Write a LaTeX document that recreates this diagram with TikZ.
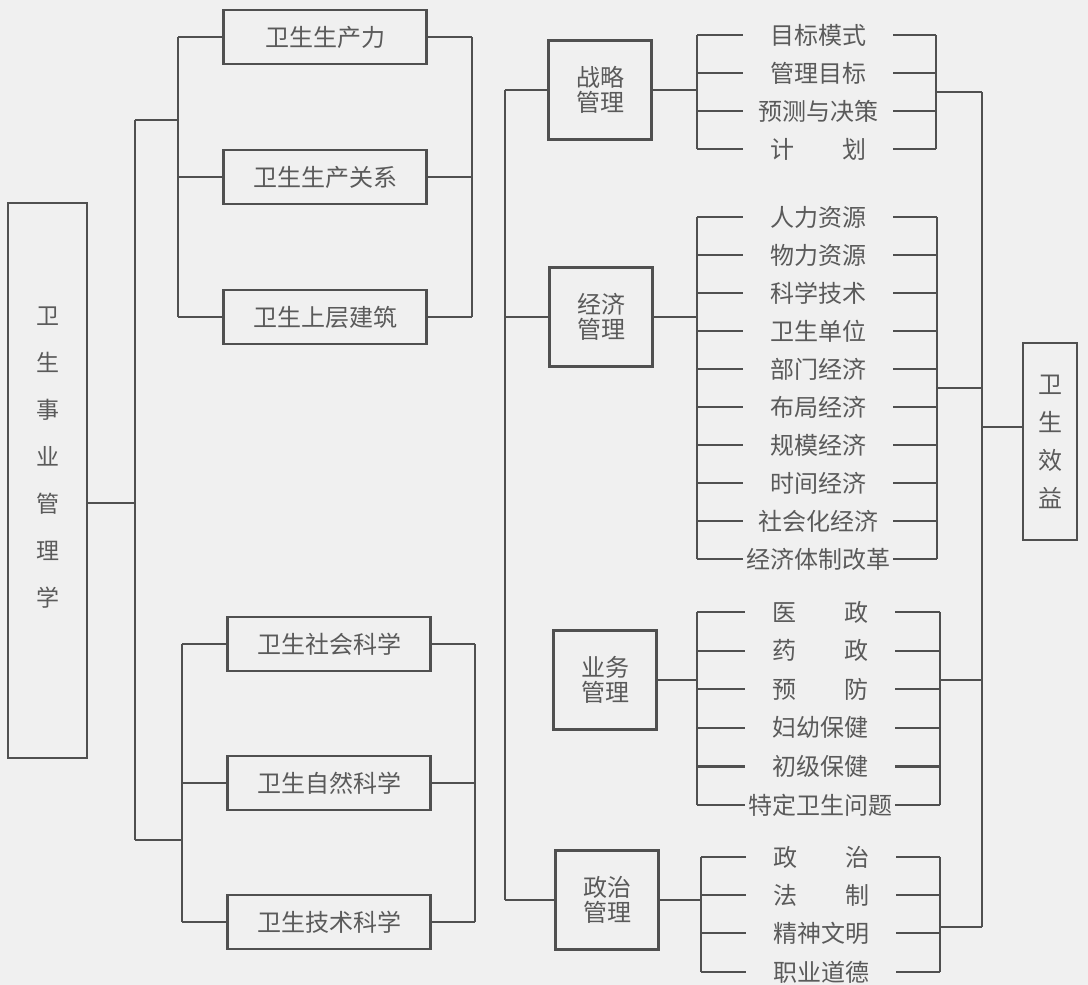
\documentclass[tikz,border=0pt]{standalone}
\usepackage{fontspec}
\newfontfamily\cjk{Noto Sans CJK SC}
\definecolor{ink}{HTML}{505050}
\definecolor{txt}{HTML}{5a5a5a}
\definecolor{paper}{HTML}{F0F0F0}
\begin{document}
\begin{tikzpicture}[x=1pt,y=-1pt,
  link/.style={draw=ink,line width=2.2pt},
  bx/.style={draw=ink,line width=2.2pt,inner sep=0pt,text=txt,font=\cjk\fontsize{24}{28}\selectfont},
  sbox/.style={bx,minimum width=203pt,minimum height=54pt},
  mbox/.style={bx,minimum width=103pt,minimum height=99pt,align=center,font=\cjk\fontsize{24}{25}\selectfont},
  item/.style={inner sep=0pt,minimum width=150pt,minimum height=30pt,text=txt,font=\cjk\fontsize{24}{28}\selectfont}]
\fill[paper] (0,0) rectangle (1088,985);
\useasboundingbox (0,0) rectangle (1088,985);

% left main box
\node[bx,minimum width=79pt,minimum height=555pt] (L) at (47.5,480.5) {};
\node[text=txt,align=center,inner sep=0pt,font=\cjk\fontsize{23}{47}\selectfont] (Lt) at (47.5,458) {卫\\生\\事\\业\\管\\理\\学};

% trunk bar
\coordinate (barT) at (135,120);
\coordinate (barB) at (135,840);
\coordinate (barM) at (135,503);
\draw[link] (barT) -- (barB);
\draw[link] (L.east |- barM) -- (barM);

% top group
\node[sbox] (A1) at (325,37) {卫生生产力};
\node[sbox] (A2) at (325,177) {卫生生产关系};
\node[sbox] (A3) at (325,317) {卫生上层建筑};
\coordinate (tl) at (178,120);
\coordinate (tr) at (472,37);
\draw[link] (barT) -- (tl);
\draw[link] (tl |- A1) -- (tl |- A3);
\draw[link] (tr |- A1) -- (tr |- A3);
\foreach \n in {A1,A2,A3}{
  \draw[link] (tl |- \n) -- (\n.west);
  \draw[link] (\n.east) -- (tr |- \n);
}

% bottom group
\node[sbox] (B1) at (329,644) {卫生社会科学};
\node[sbox] (B2) at (329,783) {卫生自然科学};
\node[sbox] (B3) at (329,922) {卫生技术科学};
\coordinate (bl) at (182,840);
\coordinate (br) at (475,644);
\draw[link] (barB) -- (bl);
\draw[link] (bl |- B1) -- (bl |- B3);
\draw[link] (br |- B1) -- (br |- B3);
\foreach \n in {B1,B2,B3}{
  \draw[link] (bl |- \n) -- (\n.west);
  \draw[link] (\n.east) -- (br |- \n);
}

% management boxes
\node[mbox] (M1) at (600,90) {战略\\管理};
\node[mbox] (M2) at (601,317) {经济\\管理};
\node[mbox] (M3) at (605,680) {业务\\管理};
\node[mbox] (M4) at (607,900) {政治\\管理};
\coordinate (col) at (505,90);
\draw[link] (col |- M1) -- (col |- M4);
\draw[link] (col |- M1) -- (M1.west);
\draw[link] (col |- M2) -- (M2.west);
\draw[link] (col |- M4) -- (M4.west);

% strategy items
\node[item] (S1) at (818,35) {目标模式};
\node[item] (S2) at (818,73) {管理目标};
\node[item] (S3) at (818,111) {预测与决策};
\node[item] (S4) at (818,149) {计\hspace{2em}划};
\coordinate (sL) at (697,90);
\coordinate (sR) at (936,92);
\draw[link] (M1.east) -- (sL |- M1);
\draw[link] (sL |- S1) -- (sL |- S4);
\draw[link] (sR |- S1) -- (sR |- S4);
\foreach \n in {S1,S2,S3,S4}{
  \draw[link] (sL |- \n) -- (\n.west);
  \draw[link] (\n.east) -- (sR |- \n);
}

% economic items
\node[item] (E1) at (818,217) {人力资源};
\node[item] (E2) at (818,255) {物力资源};
\node[item] (E3) at (818,293) {科学技术};
\node[item] (E4) at (818,331) {卫生单位};
\node[item] (E5) at (818,369) {部门经济};
\node[item] (E6) at (818,407) {布局经济};
\node[item] (E7) at (818,445) {规模经济};
\node[item] (E8) at (818,483) {时间经济};
\node[item] (E9) at (818,521) {社会化经济};
\node[item] (E10) at (818,559) {经济体制改革};
\coordinate (eL) at (697,317);
\coordinate (eR) at (937,388);
\draw[link] (M2.east) -- (eL |- M2);
\draw[link] (eL |- E1) -- (eL |- E10);
\draw[link] (eR |- E1) -- (eR |- E10);
\foreach \n in {E1,E2,E3,E4,E5,E6,E7,E8,E9,E10}{
  \draw[link] (eL |- \n) -- (\n.west);
  \draw[link] (\n.east) -- (eR |- \n);
}

% business items
\node[item] (Y1) at (820,612) {医\hspace{2em}政};
\node[item] (Y2) at (820,650.6) {药\hspace{2em}政};
\node[item] (Y3) at (820,689.2) {预\hspace{2em}防};
\node[item] (Y4) at (820,727.8) {妇幼保健};
\node[item] (Y5) at (820,766.4) {初级保健};
\node[item] (Y6) at (820,805) {特定卫生问题};
\coordinate (yL) at (697,680);
\coordinate (yR) at (940,680);
\draw[link] (M3.east) -- (yL |- M3);
\draw[link] (yL |- Y1) -- (yL |- Y6);
\draw[link] (yR |- Y1) -- (yR |- Y6);
\foreach \n in {Y1,Y2,Y3,Y4,Y5,Y6}{
  \draw[link] (yL |- \n) -- (\n.west);
  \draw[link] (\n.east) -- (yR |- \n);
}

% political items
\node[item] (Z1) at (821,857) {政\hspace{2em}治};
\node[item] (Z2) at (821,895) {法\hspace{2em}制};
\node[item] (Z3) at (821,933) {精神文明};
\node[item] (Z4) at (821,972) {职业道德};
\coordinate (zL) at (701,900);
\coordinate (zR) at (940,927);
\draw[link] (M4.east) -- (zL |- M4);
\draw[link] (zL |- Z1) -- (zL |- Z4);
\draw[link] (zR |- Z1) -- (zR |- Z4);
\foreach \n in {Z1,Z2,Z3,Z4}{
  \draw[link] (zL |- \n) -- (\n.west);
  \draw[link] (\n.east) -- (zR |- \n);
}

% result column
\node[bx,minimum width=54pt,minimum height=197pt,align=center,font=\cjk\fontsize{24}{38}\selectfont] (R) at (1050,441.5) {卫\\生\\效\\益};
\coordinate (V) at (982,92);
\draw[link] (V |- sR) -- (V |- zR);
\draw[link] (sR) -- (V |- sR);
\draw[link] (eR) -- (V |- eR);
\draw[link] (yR) -- (V |- yR);
\draw[link] (zR) -- (V |- zR);
\draw[link] (V |- 0,427) -- (R.west |- 0,427);
\end{tikzpicture}
\end{document}
